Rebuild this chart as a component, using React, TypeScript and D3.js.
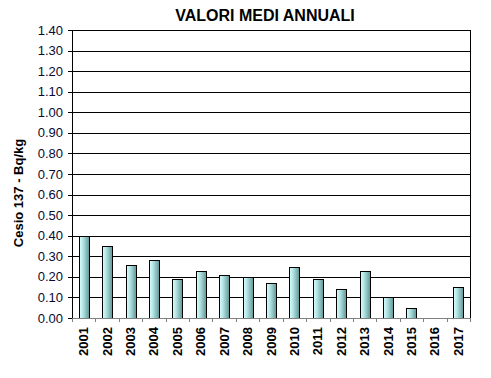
import React from "react";
import * as d3 from "d3";

const years = ["2001","2002","2003","2004","2005","2006","2007","2008","2009","2010","2011","2012","2013","2014","2015","2016","2017"];
const values = [0.40,0.35,0.26,0.28,0.19,0.23,0.21,0.20,0.17,0.25,0.19,0.14,0.23,0.10,0.05,0,0.15];
const yTicks = d3.range(0, 15).map((i) => i / 10);
const title = "VALORI MEDI ANNUALI";
const yTitle = "Cesio 137  - Bq/kg";

export default function App() {
  const W = 491, H = 378;
  const left = 72, right = 470, top = 30, bottom = 318;
  const x = d3.scaleBand().domain(years).range([left, right]).paddingInner(0).paddingOuter(0);
  const y = d3.scaleLinear().domain([0, 1.4]).range([bottom, top]);
  const bw = 10;
  const font = "Arial, 'Liberation Sans', sans-serif";
  return (
    <svg width={W} height={H} style={{ position: "absolute", left: 0, top: 0, background: "#fff" }}>
      <defs>
        <linearGradient id="barg" x1="0" x2="1" y1="0" y2="0">
          <stop offset="0" stopColor="#d8ffff" />
          <stop offset="0.35" stopColor="#b4e4e4" />
          <stop offset="1" stopColor="#5f9595" />
        </linearGradient>
      </defs>
      <rect x={0} y={0} width={W} height={H} fill="#fff" />
      <text x={265} y={20.5} textAnchor="middle" fontFamily={font} fontWeight="bold" fontSize={16} fill="#000">{title}</text>
      {yTicks.map((t) => (
        <g key={t}>
          {t > 0 && <line x1={left} x2={right} y1={Math.round(y(t)) + 0.5} y2={Math.round(y(t)) + 0.5} stroke="#000" strokeWidth={1} />}
          <line x1={left - 4} x2={left} y1={Math.round(y(t)) + 0.5} y2={Math.round(y(t)) + 0.5} stroke="#000" />
          <text x={63} y={y(t) + 4.5} textAnchor="end" fontFamily={font} fontSize={13} fill="#0a0a30">{t.toFixed(2)}</text>
        </g>
      ))}
      <line x1={right + 0.5} x2={right + 0.5} y1={top} y2={bottom} stroke="#000" />
      <line x1={left + 0.5} x2={left + 0.5} y1={top} y2={bottom} stroke="#000" />
      {years.map((yr, i) => {
        const v = values[i];
        const cx = (x(yr) as number) + x.bandwidth() / 2;
        const y0 = y(v);
        return (
          <g key={yr}>
            {v > 0 && (
              <rect x={Math.round(cx - bw / 2) + 0.5} y={Math.round(y0) + 0.5} width={bw} height={bottom - Math.round(y0)} fill="url(#barg)" stroke="#000" strokeWidth={1} />
            )}
            <line x1={Math.round(x(yr) as number) + 0.5} x2={Math.round(x(yr) as number) + 0.5} y1={bottom} y2={bottom + 4} stroke="#808080" />
            <text transform={`translate(${cx + 4.5},${327}) rotate(-90)`} textAnchor="end" fontFamily={font} fontWeight="bold" fontSize={13} fill="#000">{yr}</text>
          </g>
        );
      })}
      <line x1={right + 0.5} x2={right + 0.5} y1={bottom} y2={bottom + 4} stroke="#808080" />
      <line x1={left} x2={right + 1} y1={bottom + 0.5} y2={bottom + 0.5} stroke="#808080" />
      <text transform={`translate(${23},${193}) rotate(-90)`} textAnchor="middle" fontFamily={font} fontWeight="bold" fontSize={13} fill="#000">{yTitle}</text>
    </svg>
  );
}
